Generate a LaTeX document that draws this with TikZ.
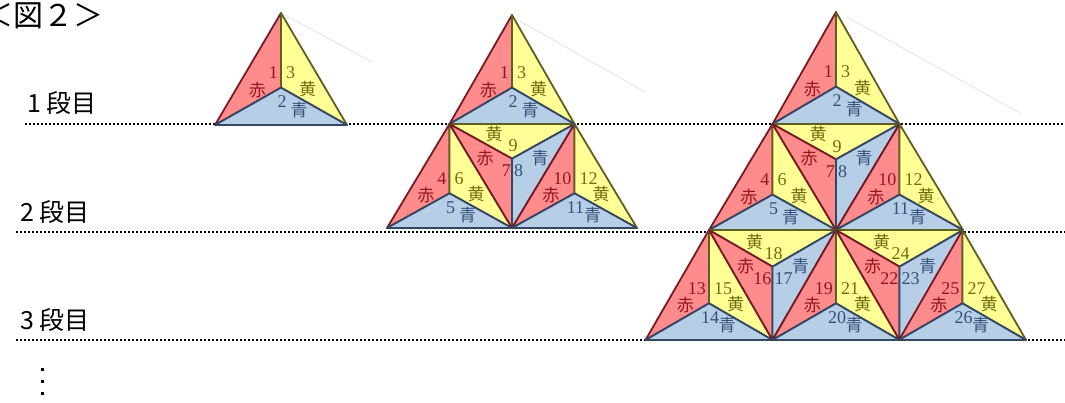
\documentclass[tikz,border=0pt]{standalone}
\usepackage{fontspec}
\newfontfamily\jp{Noto Sans CJK JP}
\newfontfamily\dg{Liberation Serif}
\usetikzlibrary{calc}
\definecolor{redfill}{RGB}{255,140,140}
\definecolor{redline}{RGB}{120,25,35}
\definecolor{yelfill}{RGB}{255,255,150}
\definecolor{yelline}{RGB}{95,95,35}
\definecolor{blufill}{RGB}{182,206,230}
\definecolor{bluline}{RGB}{50,72,100}
\definecolor{redtxt}{RGB}{150,20,30}
\definecolor{yeltxt}{RGB}{110,110,15}
\definecolor{blutxt}{RGB}{55,80,120}
\tikzset{
  redtri/.style={fill=redfill, draw=redline, line width=1.8pt, line join=round},
  yeltri/.style={fill=yelfill, draw=yelline, line width=1.8pt, line join=round},
  blutri/.style={fill=blufill, draw=bluline, line width=1.8pt, line join=round},
  num/.style={inner sep=0pt, font={\dg\fontsize{18}{18}\selectfont}},
  kj/.style={inner sep=0pt, font={\jp\fontsize{17}{17}\selectfont}},
  rowlabel/.style={inner sep=0pt, anchor=west, font={\jp\fontsize{25}{25}\selectfont}},
  rowline/.style={line width=2pt, dash pattern=on 2pt off 2pt},
  ghost/.style={draw=gray!22, line width=0.8pt}
}
\newcommand\uptri[7]{%
  \pgfmathsetmacro\tcy{#2+2*(#4-#2)/3}%
  \pgfmathsetmacro\tlx{#1-#3}%
  \pgfmathsetmacro\trx{#1+#3}%
  \filldraw[redtri] (#1,#2) -- (\tlx,#4) -- (#1,\tcy) -- cycle;
  \filldraw[yeltri] (#1,#2) -- (\trx,#4) -- (#1,\tcy) -- cycle;
  \filldraw[blutri] (\tlx,#4) -- (\trx,#4) -- (#1,\tcy) -- cycle;
  \node[num,redtxt,anchor=east] at ($(#1,\tcy)+(-3,-15)$) {#5};
  \node[kj,redtxt,anchor=east] at ($(#1,\tcy)+(-15,2)$) {赤};
  \node[num,yeltxt,anchor=west] at ($(#1,\tcy)+(5,-15)$) {#7};
  \node[kj,yeltxt,anchor=west] at ($(#1,\tcy)+(18,1)$) {黄};
  \node[num,blutxt] at ($(#1,\tcy)+(1,14)$) {#6};
  \node[kj,blutxt] at ($(#1,\tcy)+(18,22)$) {青};
}
\newcommand\dntri[7]{%
  \pgfmathsetmacro\tcy{#2+(#4-#2)/3}%
  \pgfmathsetmacro\tbx{#1+#3}%
  \pgfmathsetmacro\trx{#1+2*#3}%
  \filldraw[yeltri] (#1,#2) -- (\trx,#2) -- (\tbx,\tcy) -- cycle;
  \filldraw[redtri] (#1,#2) -- (\tbx,#4) -- (\tbx,\tcy) -- cycle;
  \filldraw[blutri] (\trx,#2) -- (\tbx,#4) -- (\tbx,\tcy) -- cycle;
  \node[kj,yeltxt] at ($(\tbx,\tcy)+(-18,-25)$) {黄};
  \node[num,yeltxt] at ($(\tbx,\tcy)+(1,-13)$) {#7};
  \node[kj,redtxt] at ($(\tbx,\tcy)+(-27,-1)$) {赤};
  \node[num,redtxt,anchor=east] at ($(\tbx,\tcy)+(-1,12)$) {#5};
  \node[num,blutxt,anchor=west] at ($(\tbx,\tcy)+(2,12)$) {#6};
  \node[kj,blutxt] at ($(\tbx,\tcy)+(28,-1)$) {青};
}
\begin{document}
\begin{tikzpicture}[x=1pt,y=-1pt]
\useasboundingbox (0,0) rectangle (1065,403);
% title
\node[inner sep=0pt, anchor=west, font={\jp\fontsize{30}{30}\selectfont}] (title) at (-17,16) {＜図２＞};
% row labels
\node[rowlabel] (r1) at (27,103) {1 段目};
\node[rowlabel] (r2) at (20,212) {2 段目};
\node[rowlabel] (r3) at (20,320) {3 段目};
% vertical ellipsis
\foreach \yy in {369,381,393} \fill (40.5,\yy-1.5) rectangle (43.5,\yy+1.5);
% dotted row lines
\draw[rowline] (25,124) -- (1065,124);
\draw[rowline] (16,232) -- (1065,232);
\draw[rowline] (16,340) -- (1065,340);
% faint ghost lines
\draw[ghost] (285,15) -- (372,62);
\draw[ghost] (518,20) -- (645,92);
\draw[ghost] (847,17) -- (1020,113);
% small triangle
\uptri{281}{13}{66}{125}{1}{2}{3}
% middle triangle
\uptri{512}{15}{62.5}{124}{1}{2}{3}
\uptri{449.5}{124}{62.5}{228}{4}{5}{6}
\dntri{449.5}{124}{62.5}{228}{7}{8}{9}
\uptri{574.5}{124}{62.5}{228}{10}{11}{12}
% large triangle
\uptri{836}{12}{63.5}{124}{1}{2}{3}
\uptri{772.5}{124}{63.5}{230}{4}{5}{6}
\dntri{772.5}{124}{63.5}{230}{7}{8}{9}
\uptri{899.5}{124}{63.5}{230}{10}{11}{12}
\uptri{709}{230}{63.5}{340}{13}{14}{15}
\dntri{709}{230}{63.5}{340}{16}{17}{18}
\uptri{836}{230}{63.5}{340}{19}{20}{21}
\dntri{836}{230}{63.5}{340}{22}{23}{24}
\uptri{962.5}{230}{63.5}{340}{25}{26}{27}
\end{tikzpicture}
\end{document}
